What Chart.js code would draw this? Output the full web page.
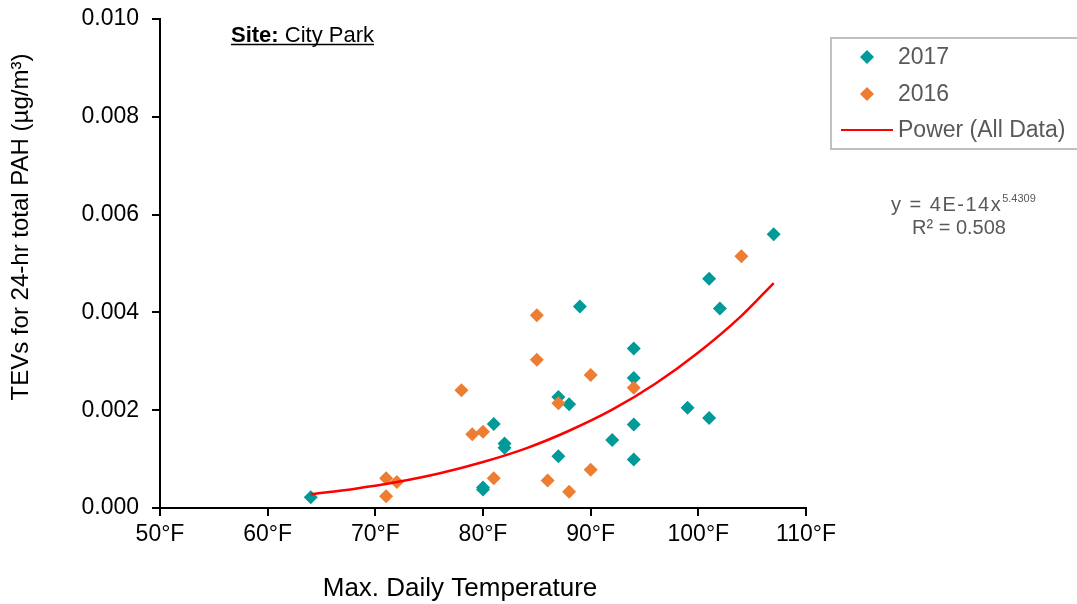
<!DOCTYPE html>
<html>
<head>
<meta charset="utf-8">
<script src="https://cdn.jsdelivr.net/npm/chart.js@4.4.0/dist/chart.umd.min.js"></script>
<style>
  html, body { margin: 0; padding: 0; background: #fff; }
  #wrap { width: 1077px; height: 604px; }
</style>
</head>
<body>
<div id="wrap"><canvas id="myChart" width="1077" height="604"></canvas></div>
<script>
// values
let temps_2017 = [64, 80, 80, 81, 82, 82, 87, 87, 88, 89, 92, 94, 94, 94, 94, 99, 101, 101, 102, 107];
let tev_2017 = [0.00022, 0.00042, 0.00038, 0.00172, 0.00132, 0.00123, 0.00227, 0.00106, 0.00212, 0.00412,
                0.00139, 0.00326, 0.00266, 0.00171, 0.00099, 0.00205, 0.00469, 0.00184, 0.00408, 0.00560];

let temps_2016 = [71, 71, 72, 78, 79, 80, 81, 85, 85, 86, 87, 88, 90, 90, 94, 104];
let tev_2016 = [0.00061, 0.00024, 0.00053, 0.00241, 0.00151, 0.00156, 0.00061, 0.00394, 0.00303, 0.00056,
                0.00214, 0.00033, 0.00272, 0.00078, 0.00246, 0.00515];

// power trendline (All Data), read at a few temperatures
let trend_temps = [64, 68, 72, 76, 80, 84, 88, 92, 96, 100, 104, 107];
let trend_tev = [0.00028, 0.00039, 0.00053, 0.00071, 0.00094, 0.00122, 0.00158, 0.00201, 0.00254, 0.00318, 0.00393, 0.00460];

let x_ticks = [50, 60, 70, 80, 90, 100, 110];
let y_ticks = [0, 0.002, 0.004, 0.006, 0.008, 0.010];

const teal = '#009a98';
const orange = '#ed7d31';
const red = '#ff0000';
const gray_text = '#595959';
const font_family = '"Liberation Sans", Arial, sans-serif';

function to_points(xs, ys) {
    let pts = [];
    for (let i = 0; i < xs.length; i++) {
        pts.push({x: xs[i], y: ys[i]});
    }
    return pts;
}

// legend, titles, site label and equation
const extras = {
    id: 'extras',
    afterDraw(chart) {
        const ctx = chart.ctx;
        ctx.save();

        // site label
        ctx.fillStyle = '#000';
        ctx.textBaseline = 'alphabetic';
        ctx.textAlign = 'left';
        ctx.font = 'bold 22px ' + font_family;
        let sx = 231, sy = 41.5;
        ctx.fillText('Site:', sx, sy);
        let w1 = ctx.measureText('Site:').width;
        ctx.font = '22px ' + font_family;
        ctx.fillText(' City Park', sx + w1, sy);
        let w2 = ctx.measureText(' City Park').width;
        ctx.strokeStyle = '#000';
        ctx.lineWidth = 1.5;
        ctx.beginPath();
        ctx.moveTo(sx, sy + 3);
        ctx.lineTo(sx + w1 + w2, sy + 3);
        ctx.stroke();

        // x axis title
        ctx.font = '26px ' + font_family;
        ctx.textAlign = 'center';
        ctx.fillText('Max. Daily Temperature', 460, 596);

        // y axis title
        ctx.save();
        ctx.translate(28, 227);
        ctx.rotate(-Math.PI / 2);
        ctx.font = '24px ' + font_family;
        ctx.textAlign = 'center';
        ctx.textBaseline = 'alphabetic';
        ctx.fillText('TEVs for 24-hr total PAH (µg/m³)', 0, 0);
        ctx.restore();

        // legend box
        ctx.strokeStyle = '#c0c0c0';
        ctx.lineWidth = 2;
        ctx.strokeRect(831, 38, 260, 111);

        ctx.font = '23px ' + font_family;
        ctx.textAlign = 'left';
        ctx.textBaseline = 'middle';
        ctx.fillStyle = gray_text;

        let rows = [
            {label: '2017', color: teal, y: 57},
            {label: '2016', color: orange, y: 94}
        ];
        for (let i = 0; i < rows.length; i++) {
            ctx.fillStyle = rows[i].color;
            ctx.beginPath();
            ctx.moveTo(867, rows[i].y - 7);
            ctx.lineTo(874, rows[i].y);
            ctx.lineTo(867, rows[i].y + 7);
            ctx.lineTo(860, rows[i].y);
            ctx.closePath();
            ctx.fill();
            ctx.fillStyle = gray_text;
            ctx.fillText(rows[i].label, 898, rows[i].y + 1);
        }
        ctx.strokeStyle = red;
        ctx.lineWidth = 2;
        ctx.beginPath();
        ctx.moveTo(841, 130);
        ctx.lineTo(893, 130);
        ctx.stroke();
        ctx.fillText('Power (All Data)', 898, 131);

        // trendline equation
        ctx.textBaseline = 'alphabetic';
        ctx.textAlign = 'left';
        ctx.font = '20px ' + font_family;
        ctx.letterSpacing = '1.5px';
        let base = 'y = 4E-14x';
        let bw = ctx.measureText(base).width;
        ctx.fillText(base, 891, 211);
        ctx.letterSpacing = '0px';
        ctx.font = '11px ' + font_family;
        ctx.fillText('5.4309', 891 + bw, 202);
        ctx.font = '20px ' + font_family;
        ctx.textAlign = 'center';
        ctx.fillText('R² = 0.508', 959, 234);

        ctx.restore();
    }
};

let config = {
    type: 'scatter',
    data: {
        datasets: [
            {
                label: 'Power (All Data)',
                type: 'line',
                data: to_points(trend_temps, trend_tev),
                borderColor: red,
                borderWidth: 2.5,
                pointRadius: 0,
                fill: false,
                showLine: true,
                cubicInterpolationMode: 'monotone',
                order: 0
            },
            {
                label: '2016',
                data: to_points(temps_2016, tev_2016),
                pointStyle: 'rectRot',
                pointRadius: 7,
                backgroundColor: orange,
                borderColor: orange,
                borderWidth: 0,
                order: 1
            },
            {
                label: '2017',
                data: to_points(temps_2017, tev_2017),
                pointStyle: 'rectRot',
                pointRadius: 7,
                backgroundColor: teal,
                borderColor: teal,
                borderWidth: 0,
                order: 2
            }
        ]
    },
    options: {
        responsive: false,
        animation: false,
        layout: {
            padding: {left: 0, top: 19, right: 271, bottom: 0}
        },
        plugins: {
            legend: {display: false},
            tooltip: {enabled: false}
        },
        scales: {
            x: {
                type: 'linear',
                min: 50,
                max: 110,
                afterFit(scale) {
                    scale.height = 96;
                    scale.paddingLeft = 0;
                    scale.paddingRight = 0;
                },
                afterBuildTicks(scale) {
                    scale.ticks = x_ticks.map(v => ({value: v}));
                },
                border: {display: true, color: '#000', width: 2},
                grid: {display: true, drawOnChartArea: false, drawTicks: true, tickLength: 8, color: '#000', lineWidth: 2},
                ticks: {
                    color: '#000',
                    padding: 5,
                    font: {family: font_family, size: 23},
                    maxRotation: 0,
                    callback(value) { return value + '°F'; }
                }
            },
            y: {
                type: 'linear',
                min: 0,
                max: 0.010,
                afterFit(scale) {
                    scale.width = 160;
                    scale.paddingTop = 0;
                    scale.paddingBottom = 0;
                },
                afterBuildTicks(scale) {
                    scale.ticks = y_ticks.map(v => ({value: v}));
                },
                border: {display: true, color: '#000', width: 2},
                grid: {display: true, drawOnChartArea: false, drawTicks: true, tickLength: 8, color: '#000', lineWidth: 2},
                ticks: {
                    color: '#000',
                    padding: 13,
                    font: {family: font_family, size: 23},
                    callback(value) { return value.toFixed(3); }
                }
            }
        }
    },
    plugins: [extras]
};

const ctx = document.getElementById('myChart');
window.chart = new Chart(ctx, config);
</script>
</body>
</html>
